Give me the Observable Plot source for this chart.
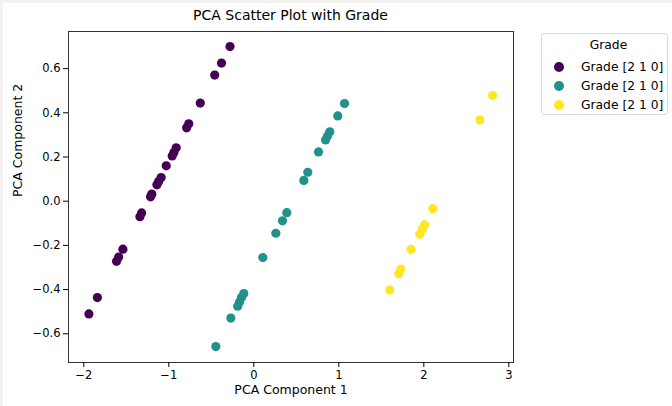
<!DOCTYPE html>
<html>
<head>
<meta charset="utf-8">
<script src="https://cdn.jsdelivr.net/npm/d3@7"></script>
<script src="https://cdn.jsdelivr.net/npm/@observablehq/plot@0.6"></script>
<style>
  html, body { margin: 0; padding: 0; background: #f4f2f1; }
  #wrap { position: relative; width: 672px; height: 406px; overflow: hidden; }
  #panel { position: absolute; left: 3px; top: 3px; width: 669px; height: 403px; background: #fff; }
  #chart { position: absolute; left: 0; top: 0; }
  .title { position: absolute; top: 7px; left: 90px; width: 401px; text-align: center; font: 14px "DejaVu Sans", sans-serif; color: #000; }
  .legend { position: absolute; left: 541px; top: 33px; width: 127px; height: 82px; box-sizing: border-box; border: 1px solid #d9d9d9; border-radius: 3px; background: #fff; font: 12.3px "DejaVu Sans", sans-serif; color: #000; }
  .legend .lt { position: absolute; top: 4px; left: 0; width: 100%; text-align: center; padding-left: 8px; box-sizing: border-box; }
  .legend .row { position: absolute; left: 12px; height: 16px; line-height: 16px; white-space: nowrap; }
  .legend .sw { display: inline-block; width: 10px; height: 10px; border-radius: 50%; vertical-align: -1px; margin-right: 17px; }
</style>
</head>
<body>
<div id="wrap">
  <div id="panel"></div>
  <div id="chart"></div>
  <div class="title">PCA Scatter Plot with Grade</div>
  <div class="legend" id="legend"><div class="lt">Grade</div></div>
</div>
<script>
// Series: grade groups (purple, teal, yellow)
const groupNames = ["Grade [2 1 0]", "Grade [2 1 0]", "Grade [2 1 0]"];
const groupColors = ["#440154", "#21918c", "#fde725"];

const purpleX = [-0.28, -0.38, -0.46, -0.63, -0.765, -0.79, -0.913, -0.94, -0.96, -1.03, -1.09, -1.12, -1.14, -1.20, -1.215, -1.32, -1.34, -1.54, -1.59, -1.615, -1.84, -1.94];
const purpleY = [0.70, 0.625, 0.571, 0.444, 0.35, 0.332, 0.242, 0.22, 0.205, 0.16, 0.107, 0.089, 0.074, 0.032, 0.02, -0.053, -0.07, -0.217, -0.253, -0.272, -0.436, -0.51];

const tealX = [1.067, 0.988, 0.894, 0.867, 0.844, 0.761, 0.635, 0.588, 0.388, 0.338, 0.259, 0.106, -0.118, -0.145, -0.168, -0.19, -0.27, -0.447];
const tealY = [0.442, 0.386, 0.314, 0.295, 0.277, 0.223, 0.131, 0.094, -0.052, -0.089, -0.145, -0.255, -0.418, -0.436, -0.456, -0.475, -0.529, -0.658];

const yellowX = [2.81, 2.66, 2.106, 2.008, 1.98, 1.953, 1.85, 1.73, 1.706, 1.60];
const yellowY = [0.478, 0.367, -0.034, -0.107, -0.128, -0.15, -0.218, -0.307, -0.328, -0.402];

const xTicks = [-2, -1, 0, 1, 2, 3];
const yTicks = [-0.6, -0.4, -0.2, 0.0, 0.2, 0.4, 0.6];

const series = [[purpleX, purpleY], [tealX, tealY], [yellowX, yellowY]];
const data = [];
series.forEach(([xs, ys], g) => xs.forEach((x, i) => data.push({x, y: ys[i], g})));

const minus = v => String(v).replace("-", "\u2212");

const chart = Plot.plot({
  width: 672,
  height: 406,
  marginLeft: 68,
  marginRight: 159,
  marginTop: 31,
  marginBottom: 44,
  style: { background: "transparent", fontFamily: "DejaVu Sans, sans-serif", fontSize: "11.5px", color: "#000" },
  x: { domain: [-2.18, 3.055], ticks: xTicks, tickFormat: d => minus(d), label: null, tickSize: 5 },
  y: { domain: [-0.730, 0.768], ticks: yTicks, tickFormat: d => minus(d.toFixed(1)), label: null, tickSize: 5 },
  color: { domain: [0, 1, 2], range: groupColors },
  marks: [
    Plot.frame({ stroke: "#333", strokeWidth: 1 }),
    Plot.axisX({ ticks: xTicks, tickFormat: d => minus(d), tickSize: 5, tickPadding: 3, label: null }),
    Plot.axisY({ ticks: yTicks, tickFormat: d => minus(d.toFixed(1)), tickSize: 5, tickPadding: 3, label: null }),
    Plot.dot(data, { x: "x", y: "y", fill: d => d.g, r: 4.6, stroke: "none" }),
    Plot.text(["PCA Component 1"], { frameAnchor: "bottom", dy: 31, fontSize: 12.5 }),
    Plot.text(["PCA Component 2"], { frameAnchor: "left", dx: -51, rotate: -90, fontSize: 12.5 })
  ]
});
document.getElementById("chart").appendChild(chart);

const legend = document.getElementById("legend");
groupNames.forEach((name, i) => {
  const row = document.createElement("div");
  row.className = "row";
  row.style.top = (25 + i * 18.8) + "px";
  row.innerHTML = `<span class="sw" style="background:${groupColors[i]}"></span>${name}`;
  legend.appendChild(row);
});
</script>
</body>
</html>
